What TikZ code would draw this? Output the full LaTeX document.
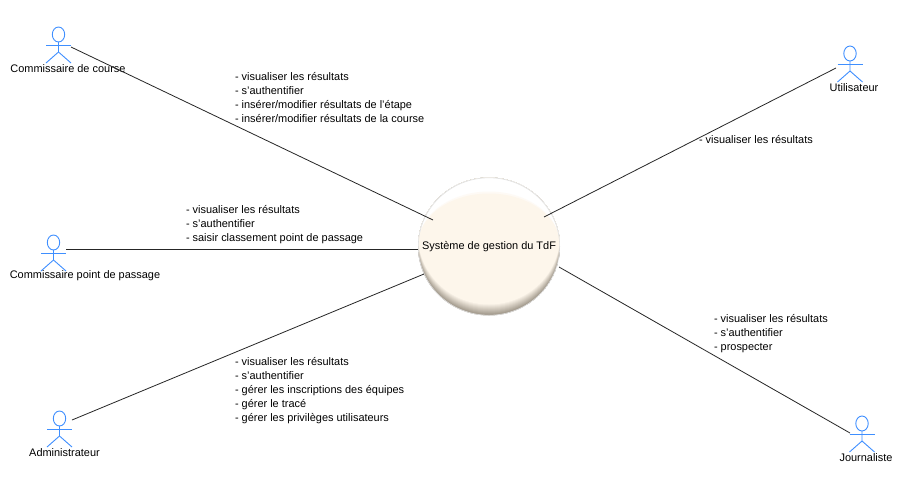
\documentclass[tikz,border=0pt]{standalone}
\usepackage{fontspec}
\setmainfont{Liberation Sans}
\tikzset{
  x=1pt,y=-1pt,
  txt/.style={inner sep=0pt,outer sep=0pt,font=\fontsize{10.95}{14}\selectfont,text=black},
  note/.style={txt,align=left,anchor=north west},
  link/.style={draw=black!85,line width=0.8pt},
  stick/.style={draw=actorblue,line width=0.9pt},
}
\definecolor{actorblue}{HTML}{3F8FFF}
\definecolor{cream}{HTML}{FDF6EB}
\definecolor{rimdark}{HTML}{8F8678}
\newcommand\stickman[2]{%
  \draw[stick] (#1,#2+7.5) ellipse (6.2 and 7.5);
  \draw[stick] (#1-12.5,#2+18) -- (#1+12.5,#2+18);
  \draw[stick] (#1,#2+15) -- (#1,#2+25) -- (#1-12.5,#2+36);
  \draw[stick] (#1,#2+25) -- (#1+12.5,#2+36);
}
\begin{document}
\begin{tikzpicture}
\useasboundingbox[fill=white] (0,0) rectangle (912,488);
% sphere: rim, darkening towards the bottom
\begin{scope}
  \clip (489,246.5) ellipse (71 and 69);
  \foreach \k in {0,...,11}{
    \pgfmathsetmacro\mx{85-\k*7.7}
    \pgfmathsetmacro\cy{246.5-\k*1.0}
    \fill[rimdark!\mx!cream] (489,\cy) ellipse (71 and 69);
  }
  \clip (400,170) rectangle (580,245);
  \fill[white] (400,170) rectangle (580,245);
  \fill[cream!50!white] (489,245) ellipse (71 and 53.5);
  \fill[cream] (489,245) ellipse (71 and 51.5);
\end{scope}
\draw[black!12,line width=0.6pt] (489,246.5) ellipse (70.7 and 68.7);
\node[txt] (sys) at (489,246.5) {Système de gestion du TdF};
% actors
\stickman{58.5}{27}
\stickman{53.5}{235}
\stickman{59.5}{411}
\stickman{850}{46}
\stickman{862}{416}
\node[txt] (a1) at (68,69) {Commissaire de course};
\node[txt] (a2) at (85,276) {Commissaire point de passage};
\node[txt] (a3) at (64.5,453) {Administrateur};
\node[txt] (a4) at (854,88) {Utilisateur};
\node[txt] (a5) at (866,458) {Journaliste};
% connector ends
\coordinate (c1) at (71,47);  \coordinate (s1) at (433,220);
\coordinate (c2) at (66,249); \coordinate (s2) at (418,249);
\coordinate (c3) at (72,420); \coordinate (s3) at (424,274);
\coordinate (c4) at (836,68); \coordinate (s4) at (544,217);
\coordinate (c5) at (850,433);\coordinate (s5) at (559,267);
\draw[link] (c1) -- (s1);
\draw[link] (c2) -- (s2);
\draw[link] (c3) -- (s3);
\draw[link] (c4) -- (s4);
\draw[link] (c5) -- (s5);
% notes
\node[note] (n1) at (235,72.5) {- visualiser les résultats\\- s'authentifier\\- insérer/modifier résultats de l'étape\\- insérer/modifier résultats de la course};
\node[note] (n2) at (186,205.5) {- visualiser les résultats\\- s'authentifier\\- saisir classement point de passage};
\node[note] (n3) at (235,357.5) {- visualiser les résultats\\- s'authentifier\\- gérer les inscriptions des équipes\\- gérer le tracé\\- gérer les privilèges utilisateurs};
\node[note] (n4) at (699,135.5) {- visualiser les résultats};
\node[note] (n5) at (714,314.5) {- visualiser les résultats\\- s'authentifier\\- prospecter};
\end{tikzpicture}
\end{document}
